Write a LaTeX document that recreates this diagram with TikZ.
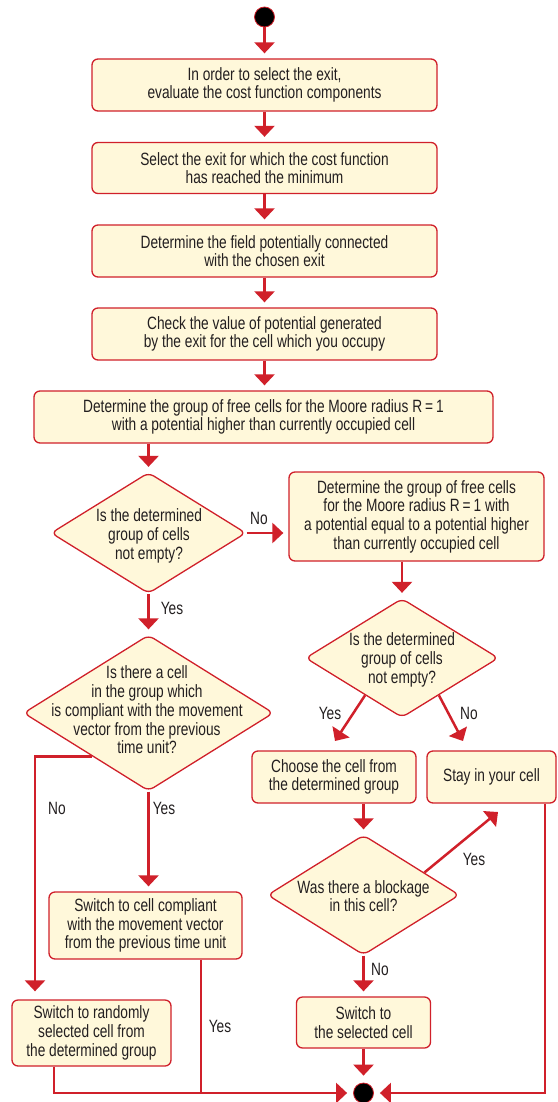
\documentclass[tikz,border=0pt]{standalone}
\usepackage{fontspec}
\setmainfont{Liberation Sans}[FakeStretch=0.77]
\usetikzlibrary{shapes.geometric,arrows.meta,calc}
\definecolor{rd}{HTML}{D0202A}
\definecolor{fl}{HTML}{FFF8DA}
\definecolor{tx}{HTML}{231F20}
\begin{document}
\begin{tikzpicture}[x=1pt,y=-1pt,
 every node/.style={font=\fontsize{17.8}{18.7}\selectfont, text=tx},
 box/.style={draw=rd, fill=fl, line width=1.3pt, rounded corners=6pt, inner sep=0pt, align=center},
 dia/.style={diamond, draw=rd, fill=fl, line width=1.3pt, rounded corners=6pt, inner sep=0pt},
 txt/.style={align=center, inner sep=0pt},
 arr/.style={draw=rd, line width=2.5pt, -{Triangle[width=20pt,length=11pt]}, shorten >=5pt},
 ln/.style={draw=rd, line width=2.5pt},
 lbl/.style={inner sep=0pt},
 dot/.style={circle, fill=black, draw=rd, line width=0.8pt, minimum size=20pt, inner sep=0pt}]
\useasboundingbox (0,0) rectangle (557,1102);
% start
\node[dot] (s) at (264.5,17) {};
% top boxes
\node[box, minimum width=345, minimum height=52] (b1) at (264.5,85) {In order to select the exit,\\evaluate the cost function components};
\node[box, minimum width=345, minimum height=51] (b2) at (264.5,168) {Select the exit for which the cost function\\has reached the minimum};
\node[box, minimum width=345, minimum height=52] (b3) at (264.5,251) {Determine the field potentially connected\\with the chosen exit};
\node[box, minimum width=345, minimum height=52] (b4) at (264.5,334) {Check the value of potential generated\\by the exit for the cell which you occupy};
\node[box, minimum width=459, minimum height=52] (b5) at (263.5,417) {Determine the group of free cells for the Moore radius R\,=\,1\\with a potential higher than currently occupied cell};
% diamond 1
\node[dia, minimum width=195, minimum height=121] (d1) at (148.5,533) {};
\node[txt] (t1) at (149,536) {Is the determined\\group of cells\\not empty?};
% box 6
\node[box, minimum width=255, minimum height=89] (b6) at (416.5,516.5) {Determine the group of free cells\\for the Moore radius R\,=\,1 with\\a potential equal to a potential higher\\than currently occupied cell};
% diamond 2
\node[dia, minimum width=193, minimum height=119] (d2) at (402,658) {};
\node[txt] (t2) at (402,660) {Is the determined\\group of cells\\not empty?};
% boxes 7, 8
\node[box, minimum width=164, minimum height=52] (b7) at (334,777) {Choose the cell from\\the determined group};
\node[box, minimum width=129, minimum height=52] (b8) at (491.5,777) {Stay in your cell};
% diamond 3
\node[dia, minimum width=192, minimum height=120] (d3) at (363.5,895) {};
\node[txt] (t3) at (363.5,896) {Was there a blockage\\in this cell?};
% diamond 4
\node[dia, minimum width=250, minimum height=156] (d4) at (148.5,713) {};
\node[txt] (t4) at (147,710) {Is there a cell\\in the group which\\is compliant with the movement\\vector from the previous\\time unit?};
% boxes 10, 9, 11
\node[box, minimum width=193, minimum height=67] (b10) at (145.5,925.5) {Switch to cell compliant\\with the movement vector\\from the previous time unit};
\node[box, minimum width=159, minimum height=66] (b9) at (91.5,1033) {Switch to randomly\\selected cell from\\the determined group};
\node[box, minimum width=134, minimum height=51] (b11) at (363.5,1022.5) {Switch to\\the selected cell};
% end
\node[dot] (e) at (363.5,1093) {};

% connectors
\draw[arr] (s) -- (b1);
\draw[arr] (b1) -- (b2);
\draw[arr] (b2) -- (b3);
\draw[arr] (b3) -- (b4);
\draw[arr] (b4.south) -- (b4.south |- b5.north);
\draw[arr] (d1.north |- b5.south) -- (d1.north);
\draw[arr] (d1.east) -- (d1.east -| b6.west);
\node[lbl] (lno1) at (259,518) {No};
\draw[arr] (d1.south) -- (d4.north);
\node[lbl] (lyes1) at (172,608) {Yes};
\draw[arr] (d2.north |- b6.south) -- (d2.north);
\coordinate (y2s) at ($(d2.south)!0.38!(d2.west)$);
\coordinate (y2e) at (335,741);
\coordinate (n2s) at ($(d2.south)!0.38!(d2.east)$);
\coordinate (n2e) at (463,741);
\draw[arr, shorten >=0pt] (y2s) -- (y2e);
\draw[arr, shorten >=0pt] (n2s) -- (n2e);
\node[lbl] (lyes2) at (330,713) {Yes};
\node[lbl] (lno2) at (469,713) {No};
\draw[arr] (d3.north |- b7.south) -- (d3.north);
\coordinate (y3s) at ($(d3.north)!0.63!(d3.east)$);
\coordinate (y3e) at (498,812);
\draw[arr, shorten >=0pt] (y3s) -- (y3e);
\node[lbl] (lyes3) at (474,859) {Yes};
\draw[arr] (d3.south) -- (b11.north);
\node[lbl] (lno3) at (380,969) {No};
\draw[arr, shorten >=7pt] (b11) -- (e);
% left diamond branches
\coordinate (n4) at ($(d4.west)!0.55!(d4.south)$);
\draw[arr, shorten >=8pt] (n4) -| ([xshift=-56.5]b9.north);
\node[lbl] (lno4) at (57,808) {No};
\draw[arr] (d4.south) -- (d4.south |- b10.north);
\node[lbl] (lyes4) at (164,808) {Yes};
% bottom joins
\coordinate (l1) at ([xshift=-37.5]b9.south);
\draw[arr, shorten >=6pt] (l1) |- (e);
\coordinate (m1) at ([xshift=55.5]b10.south);
\draw[ln] (m1) -- (m1 |- e.center);
\node[lbl] (lyes5) at (220,1026) {Yes};
\coordinate (r1) at ([xshift=53.5]b8.south);
\draw[arr, shorten >=6pt] (r1) |- (e);
\end{tikzpicture}
\end{document}
